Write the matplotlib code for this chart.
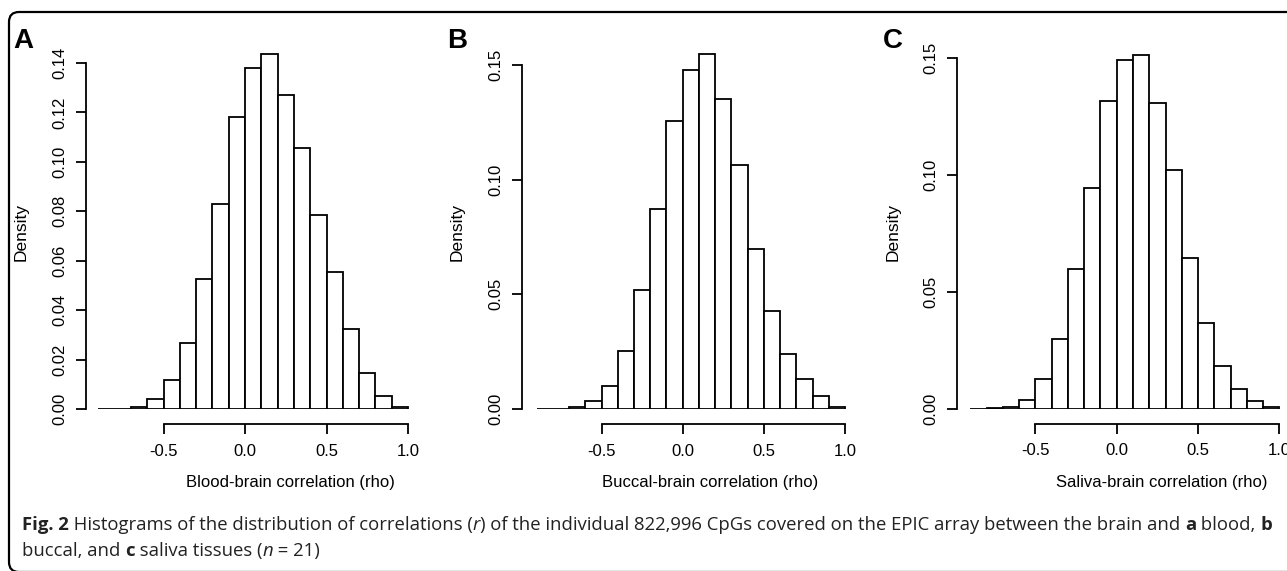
import numpy as np
import matplotlib
matplotlib.use("Agg")
import matplotlib.pyplot as plt
from matplotlib.patches import FancyBboxPatch

plt.rcParams['font.family'] = ['Liberation Sans', 'DejaVu Sans']

# histogram bins (correlation, width 0.1) and heights
bin_edges = np.round(np.arange(-0.9, 1.0001, 0.1), 2)
blood = [0, 0.0001, 0.001, 0.0039, 0.0117, 0.0268, 0.0525, 0.083, 0.1183, 0.138,
         0.1436, 0.127, 0.1058, 0.0787, 0.0555, 0.0323, 0.0147, 0.0053, 0.0008]
buccal = [0, 0.0002, 0.001, 0.0035, 0.010, 0.0253, 0.052, 0.0871, 0.1256, 0.148,
          0.1547, 0.135, 0.1066, 0.0696, 0.0427, 0.0238, 0.0131, 0.0057, 0.001]
saliva = [0, 0.0002, 0.0009, 0.0037, 0.0125, 0.0296, 0.0595, 0.0944, 0.1316, 0.1489,
          0.1511, 0.1305, 0.102, 0.0645, 0.0368, 0.0182, 0.0083, 0.0033, 0.0006]

x_ticks = [-0.5, 0.0, 0.5, 1.0]
y_ticks_a = [0.00, 0.02, 0.04, 0.06, 0.08, 0.10, 0.12, 0.14]
y_ticks_bc = [0.00, 0.05, 0.10, 0.15]

panel_letters = ["A", "B", "C"]
x_labels = ["Blood-brain correlation (rho)", "Buccal-brain correlation (rho)",
            "Saliva-brain correlation (rho)"]

W, H = 1287, 571
fig = plt.figure(figsize=(W / 100, H / 100), dpi=100)


def fx(px):
    return px / W


def fy(py):
    return 1 - py / H


# background frame
bg = fig.add_axes([0, 0, 1, 1])
bg.set_xlim(0, W)
bg.set_ylim(H, 0)
bg.axis("off")
bg.add_patch(FancyBboxPatch((9, 12), 1320, 560, boxstyle="round,pad=0,rounding_size=10",
                            facecolor="none", edgecolor="black", linewidth=1.6))

# pixel layout of each panel: zero-x px, px per unit x, left, right, zero-y px, px per unit y, top
layouts = [
    (245.0, 163.0, 86, 422, 409, 2471, 50),
    (682.7, 162.4, 521.7, 858, 409, 2293, 50),
    (1116.7, 162.7, 956.7, 1292, 408.7, 2340, 45),
]
heights = [blood, buccal, saliva]
yticks = [y_ticks_a, y_ticks_bc, y_ticks_bc]
letter_pos = [(23, 41), (457, 41), (893, 41)]
ylab_pos = [(21, 232), (457, 232), (893, 232)]
xlab_pos = [(290, 483), (710, 483), (1162, 483)]

for i in range(3):
    x0, ppx, L, R, B, ppy, T = layouts[i]
    ax = fig.add_axes([fx(L), fy(B), (R - L) / W, (B - T) / H])
    ax.set_facecolor("none")
    ax.bar(bin_edges[:-1], heights[i], width=0.1, align="edge",
           facecolor="white", edgecolor="black", linewidth=1.3)
    ax.set_xlim((L - x0) / ppx, (R - x0) / ppx)
    ax.set_ylim(0, (B - T) / ppy)

    for s in ["top", "right"]:
        ax.spines[s].set_visible(False)
    ax.spines["left"].set_bounds(yticks[i][0], yticks[i][-1])
    ax.spines["bottom"].set_bounds(x_ticks[0], x_ticks[-1])
    ax.spines["bottom"].set_position(("outward", 10.8))
    for s in ["left", "bottom"]:
        ax.spines[s].set_linewidth(1.3)

    ax.set_xticks(x_ticks)
    ax.set_xticklabels(["%.1f" % v for v in x_ticks])
    ax.set_yticks(yticks[i])
    ax.set_yticklabels(["%.2f" % v for v in yticks[i]], rotation=90, va="center")
    ax.tick_params(direction="out", length=7.2, width=1.3, labelsize=12, pad=7)
    ax.tick_params(axis="y", pad=6)

    ax.set_ylabel("Density", fontsize=12.5, va="center")
    ax.yaxis.set_label_coords(fx(ylab_pos[i][0]), fy(ylab_pos[i][1]), transform=fig.transFigure)
    ax.set_xlabel(x_labels[i], fontsize=12, va="center")
    ax.xaxis.set_label_coords(fx(xlab_pos[i][0]), fy(xlab_pos[i][1]), transform=fig.transFigure)

    fig.text(fx(letter_pos[i][0]), fy(letter_pos[i][1]), panel_letters[i],
             fontsize=20, fontweight="bold", ha="center", va="center")

# caption with mixed styles
caption_lines = [
    [("Fig. 2", "bold", "normal"),
     (" Histograms of the distribution of correlations (", "normal", "normal"),
     ("r", "normal", "italic"),
     (") of the individual 822,996 CpGs covered on the EPIC array between the brain and ", "normal", "normal"),
     ("a", "bold", "normal"), (" blood, ", "normal", "normal"), ("b", "bold", "normal")],
    [("buccal, and ", "normal", "normal"), ("c", "bold", "normal"),
     (" saliva tissues (", "normal", "normal"), ("n", "normal", "italic"),
     (" = 21)", "normal", "normal")],
]
caption_y = [525, 551]
renderer = fig.canvas.get_renderer()
for line, ypx in zip(caption_lines, caption_y):
    xpx = 22
    for txt, weight, style in line:
        t = fig.text(fx(xpx), fy(ypx), txt, fontsize=13.3, fontweight=weight, fontstyle=style,
                     family=["Open Sans", "DejaVu Sans"], color="#222222", ha="left", va="center")
        bb = t.get_window_extent(renderer=renderer)
        xpx += bb.width

fig.savefig("out.png", dpi=100)
